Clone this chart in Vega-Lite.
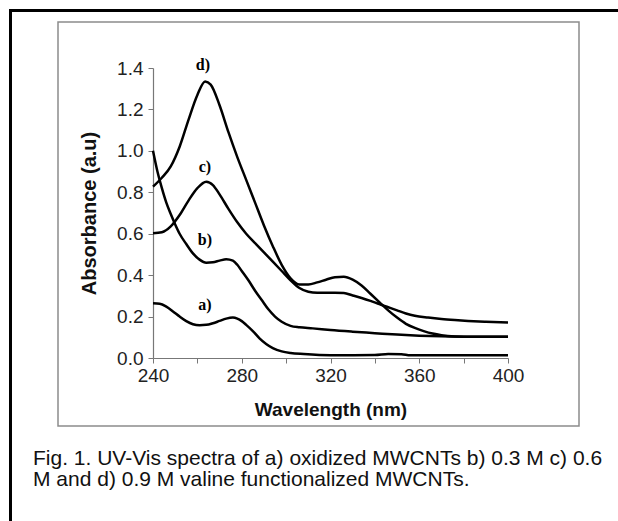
{
  "$schema": "https://vega.github.io/schema/vega-lite/v6.json",
  "width": 521,
  "height": 404,
  "autosize": "none",
  "padding": {"left": 58, "top": 22, "right": 39, "bottom": 95},
  "background": "white",
  "config": {"view": {"stroke": "#8c8c8c", "strokeWidth": 1.5}, "font": "Liberation Sans"},
  "title": {
    "text": ["Fig. 1. UV-Vis spectra of a) oxidized MWCNTs b) 0.3 M c) 0.6", "M and d) 0.9 M valine functionalized MWCNTs."],
    "orient": "bottom", "anchor": "start", "frame": "group", "align": "left",
    "fontSize": 21, "fontWeight": "normal", "font": "Liberation Sans", "color": "#111",
    "lineHeight": 21, "dx": -25, "offset": -88
  },
  "datasets": {
    "spectra": [
      {"s":"d","w":240,"v":0.827},{"s":"d","w":244,"v":0.87},{"s":"d","w":248,"v":0.925},{"s":"d","w":252,"v":1.02},{"s":"d","w":256,"v":1.15},{"s":"d","w":260,"v":1.27},{"s":"d","w":263.5,"v":1.335},{"s":"d","w":266,"v":1.32},{"s":"d","w":270,"v":1.22},{"s":"d","w":274,"v":1.09},{"s":"d","w":278,"v":0.97},{"s":"d","w":282,"v":0.86},{"s":"d","w":286,"v":0.75},{"s":"d","w":290,"v":0.64},{"s":"d","w":294,"v":0.54},{"s":"d","w":298,"v":0.45},{"s":"d","w":302,"v":0.385},{"s":"d","w":306,"v":0.355},{"s":"d","w":310,"v":0.355},{"s":"d","w":314,"v":0.365},{"s":"d","w":318,"v":0.378},{"s":"d","w":322,"v":0.39},{"s":"d","w":326,"v":0.392},{"s":"d","w":330,"v":0.378},{"s":"d","w":334,"v":0.35},{"s":"d","w":338,"v":0.31},{"s":"d","w":342,"v":0.27},{"s":"d","w":346,"v":0.23},{"s":"d","w":350,"v":0.195},{"s":"d","w":354,"v":0.165},{"s":"d","w":358,"v":0.145},{"s":"d","w":362,"v":0.13},{"s":"d","w":366,"v":0.118},{"s":"d","w":370,"v":0.11},{"s":"d","w":376,"v":0.104},{"s":"d","w":384,"v":0.102},{"s":"d","w":392,"v":0.102},{"s":"d","w":400,"v":0.102},
      {"s":"c","w":240,"v":0.602},{"s":"c","w":244,"v":0.607},{"s":"c","w":248,"v":0.635},{"s":"c","w":252,"v":0.69},{"s":"c","w":256,"v":0.76},{"s":"c","w":260,"v":0.82},{"s":"c","w":264,"v":0.851},{"s":"c","w":267,"v":0.835},{"s":"c","w":270,"v":0.79},{"s":"c","w":274,"v":0.72},{"s":"c","w":278,"v":0.655},{"s":"c","w":282,"v":0.6},{"s":"c","w":286,"v":0.555},{"s":"c","w":290,"v":0.51},{"s":"c","w":294,"v":0.465},{"s":"c","w":298,"v":0.42},{"s":"c","w":302,"v":0.375},{"s":"c","w":306,"v":0.338},{"s":"c","w":310,"v":0.32},{"s":"c","w":314,"v":0.315},{"s":"c","w":318,"v":0.315},{"s":"c","w":322,"v":0.315},{"s":"c","w":326,"v":0.314},{"s":"c","w":330,"v":0.302},{"s":"c","w":334,"v":0.29},{"s":"c","w":338,"v":0.276},{"s":"c","w":342,"v":0.26},{"s":"c","w":346,"v":0.245},{"s":"c","w":350,"v":0.23},{"s":"c","w":354,"v":0.215},{"s":"c","w":358,"v":0.204},{"s":"c","w":364,"v":0.195},{"s":"c","w":370,"v":0.188},{"s":"c","w":376,"v":0.183},{"s":"c","w":382,"v":0.179},{"s":"c","w":390,"v":0.175},{"s":"c","w":400,"v":0.171},
      {"s":"b","w":240,"v":1.0},{"s":"b","w":242,"v":0.9},{"s":"b","w":244,"v":0.82},{"s":"b","w":246,"v":0.75},{"s":"b","w":248,"v":0.695},{"s":"b","w":250,"v":0.645},{"s":"b","w":252,"v":0.6},{"s":"b","w":255,"v":0.55},{"s":"b","w":258,"v":0.505},{"s":"b","w":261,"v":0.475},{"s":"b","w":264,"v":0.46},{"s":"b","w":267,"v":0.462},{"s":"b","w":270,"v":0.47},{"s":"b","w":273,"v":0.477},{"s":"b","w":276,"v":0.47},{"s":"b","w":278,"v":0.45},{"s":"b","w":280,"v":0.42},{"s":"b","w":283,"v":0.375},{"s":"b","w":286,"v":0.325},{"s":"b","w":289,"v":0.28},{"s":"b","w":292,"v":0.235},{"s":"b","w":295,"v":0.2},{"s":"b","w":298,"v":0.175},{"s":"b","w":302,"v":0.155},{"s":"b","w":306,"v":0.148},{"s":"b","w":312,"v":0.143},{"s":"b","w":320,"v":0.135},{"s":"b","w":330,"v":0.127},{"s":"b","w":340,"v":0.12},{"s":"b","w":350,"v":0.113},{"s":"b","w":360,"v":0.108},{"s":"b","w":370,"v":0.105},{"s":"b","w":385,"v":0.103},{"s":"b","w":400,"v":0.103},
      {"s":"a","w":240,"v":0.264},{"s":"a","w":243,"v":0.262},{"s":"a","w":246,"v":0.248},{"s":"a","w":249,"v":0.225},{"s":"a","w":252,"v":0.2},{"s":"a","w":255,"v":0.178},{"s":"a","w":258,"v":0.163},{"s":"a","w":261,"v":0.158},{"s":"a","w":264,"v":0.16},{"s":"a","w":267,"v":0.168},{"s":"a","w":270,"v":0.179},{"s":"a","w":273,"v":0.19},{"s":"a","w":276,"v":0.195},{"s":"a","w":278,"v":0.19},{"s":"a","w":280,"v":0.178},{"s":"a","w":282,"v":0.16},{"s":"a","w":285,"v":0.13},{"s":"a","w":288,"v":0.095},{"s":"a","w":291,"v":0.068},{"s":"a","w":294,"v":0.048},{"s":"a","w":298,"v":0.032},{"s":"a","w":302,"v":0.024},{"s":"a","w":308,"v":0.019},{"s":"a","w":315,"v":0.015},{"s":"a","w":325,"v":0.013},{"s":"a","w":340,"v":0.014},{"s":"a","w":346,"v":0.019},{"s":"a","w":352,"v":0.018},{"s":"a","w":356,"v":0.013},{"s":"a","w":370,"v":0.013},{"s":"a","w":400,"v":0.013}
    ],
    "labels": [
      {"t":"d)","w":262.5,"v":1.414},
      {"t":"c)","w":263.4,"v":0.922},
      {"t":"b)","w":263.4,"v":0.57},
      {"t":"a)","w":263.4,"v":0.256}
    ]
  },
  "layer": [
    {
      "layer": [
        {
          "data": {"name": "spectra"},
          "mark": {"type": "line", "color": "black", "strokeWidth": 2.5, "interpolate": "monotone"},
          "encoding": {
            "detail": {"field": "s", "type": "nominal"},
            "x": {"field": "w", "type": "quantitative", "title": "Wavelength (nm)",
              "scale": {"domain": [240, 400], "range": [95, 450]},
              "axis": {"orient": "bottom", "offset": -68, "values": [240,260,280,300,320,340,360,380,400],
                "labelExpr": "datum.value % 40 == 0 ? datum.label : ''",
                "domainColor": "#777", "tickColor": "#777", "tickSize": 5, "domainWidth": 1.2,
                "labelFontSize": 19, "labelColor": "#222", "labelPadding": 3, "labelFlush": false, "labelOverlap": false,
                "titleFontSize": 19, "titleFontWeight": "bold", "titleColor": "#111", "titlePadding": 15, "grid": false}},
            "y": {"field": "v", "type": "quantitative", "title": "Absorbance (a.u)",
              "scale": {"domain": [0, 1.4], "range": [336, 46]},
              "axis": {"orient": "left", "offset": -95, "values": [0,0.1,0.2,0.3,0.4,0.5,0.6,0.7,0.8,0.9,1.0,1.1,1.2,1.3,1.4],
                "labelExpr": "round(datum.value*10) % 2 == 0 ? format(datum.value, '.1f') : ''",
                "domainColor": "#777", "tickColor": "#777", "tickSize": 5, "domainWidth": 1.2,
                "labelFontSize": 19, "labelColor": "#222", "labelPadding": 5, "labelFlush": false, "labelOverlap": false,
                "titleFontSize": 20, "titleFontWeight": "bold", "titleColor": "#111", "titlePadding": 17, "grid": false}}
          }
        },
        {
          "data": {"name": "labels"},
          "mark": {"type": "text", "font": "Liberation Serif", "fontWeight": "bold", "fontSize": 16, "color": "black", "align": "center", "baseline": "middle"},
          "encoding": {
            "text": {"field": "t", "type": "nominal"},
            "x": {"field": "w", "type": "quantitative", "title": "Wavelength (nm)", "scale": {"domain": [240, 400], "range": [95, 450]}},
            "y": {"field": "v", "type": "quantitative", "title": "Absorbance (a.u)", "scale": {"domain": [0, 1.4], "range": [336, 46]}}
          }
        }
      ]
    },
    {
      "data": {"name": "spectra"},
      "mark": {"type": "line", "opacity": 0},
      "encoding": {
        "detail": {"field": "s", "type": "nominal"},
        "x": {"field": "w", "type": "quantitative",
          "scale": {"domain": [240, 400], "range": [-49.5, 600]},
          "axis": {"orient": "top", "offset": 12, "domainColor": "black", "domainWidth": 3, "ticks": false, "labels": false, "title": null, "grid": false}},
        "y": {"field": "v", "type": "quantitative",
          "scale": {"domain": [0, 1.4], "range": [500, -13.5]},
          "axis": {"orient": "left", "offset": 48, "domainColor": "black", "domainWidth": 3, "ticks": false, "labels": false, "title": null, "grid": false}}
      }
    }
  ],
  "resolve": {"scale": {"x": "independent", "y": "independent"}, "axis": {"x": "independent", "y": "independent"}}
}
